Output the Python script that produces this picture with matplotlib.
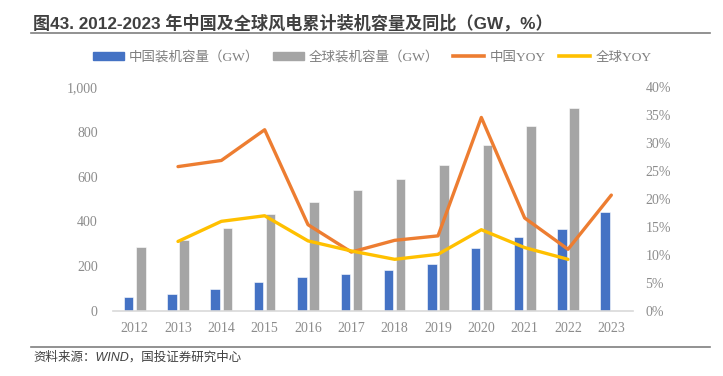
import numpy as np
import matplotlib
matplotlib.use("Agg")
import matplotlib.pyplot as plt
from matplotlib.lines import Line2D
from matplotlib.patches import Patch
from matplotlib.ticker import FuncFormatter, MultipleLocator

# data
years = ["2012", "2013", "2014", "2015", "2016", "2017",
         "2018", "2019", "2020", "2021", "2022", "2023"]
china_cap = [61, 75, 96, 129, 149, 164, 184, 210, 282, 328, 365, 441]
world_cap = [283, 318, 370, 433, 487, 540, 591, 651, 743, 825, 906, np.nan]
china_yoy = [np.nan, 25.8, 26.9, 32.4, 15.4, 10.5, 12.6, 13.4, 34.6, 16.6, 11.0, 20.7]
world_yoy = [np.nan, 12.4, 16.0, 17.0, 12.5, 10.7, 9.2, 10.1, 14.5, 11.3, 9.2, np.nan]

labels = ["中国装机容量（GW）", "全球装机容量（GW）", "中国YOY", "全球YOY"]
title = "图43. 2012-2023 年中国及全球风电累计装机容量及同比（GW，%）"
source = "资料来源：WIND，国投证券研究中心"

BLUE = "#4472C4"
GRAY = "#A5A5A5"
ORANGE = "#ED7D31"
YELLOW = "#FFC000"
TICK = "#8C8C8C"

serif = ["Liberation Serif", "Noto Sans CJK SC"]
sans = ["Liberation Sans", "Noto Sans CJK SC"]

W, H = 723, 376
fig = plt.figure(figsize=(W / 100, H / 100), dpi=100)
ax = fig.add_axes([113 / W, 1 - 310.7 / H, 520 / W, 223.4 / H])
ax2 = ax.twinx()

x = np.arange(len(years))
bw = 0.22
ax.bar(x - 0.14, china_cap, bw, color=BLUE, edgecolor="white", linewidth=0.4, zorder=2)
ax.bar(x + 0.14, world_cap, bw, color=GRAY, edgecolor="white", linewidth=0.4, zorder=2)

ax2.plot(x, china_yoy, color=ORANGE, lw=2.4, solid_capstyle="round", zorder=3)
ax2.plot(x, world_yoy, color=YELLOW, lw=2.4, solid_capstyle="round", zorder=3)

ax.set_xlim(-0.5, len(years) - 0.5)
ax.set_ylim(0, 1000)
ax2.set_ylim(0, 40)
ax.yaxis.set_major_locator(MultipleLocator(200))
ax2.yaxis.set_major_locator(MultipleLocator(5))
ax.yaxis.set_major_formatter(FuncFormatter(lambda v, p: f"{v:,.0f}"))
ax2.yaxis.set_major_formatter(FuncFormatter(lambda v, p: f"{v:.0f}%"))
ax.set_xticks(x)
ax.set_xticklabels(years)

for a in (ax, ax2):
    for s in a.spines.values():
        s.set_visible(False)
    a.tick_params(length=0, colors=TICK, labelsize=10)
    for t in a.get_xticklabels() + a.get_yticklabels():
        t.set_family(serif)
ax.spines["bottom"].set_visible(True)
ax.spines["bottom"].set_color("#D9D9D9")
ax.spines["bottom"].set_linewidth(1.2)
ax.tick_params(axis="y", pad=11)
ax.tick_params(axis="x", pad=8)
ax2.tick_params(axis="y", pad=9)

# title, rules and source
fig.text(33 / W, 1 - 22.7 / H, title, family=sans, weight="bold", fontsize=12.3,
         color="#404040", va="center", ha="left")
fig.add_artist(Line2D([31 / W, 710 / W], [1 - 33.3 / H] * 2, color="#7F7F7F", lw=1.2))
fig.add_artist(Line2D([31 / W, 710 / W], [1 - 347.3 / H] * 2, color="#7F7F7F", lw=1.2))
fig.text(33 / W, 1 - 357 / H, source, family=sans, style="italic", fontsize=9,
         color="#404040", va="center", ha="left")

handles = [Patch(color=BLUE), Patch(color=GRAY),
           Line2D([], [], color=ORANGE, lw=2.6), Line2D([], [], color=YELLOW, lw=2.6)]
leg = fig.legend(handles, labels, ncol=4, loc="center",
                 bbox_to_anchor=(372 / W, 1 - 57.3 / H), frameon=False,
                 prop={"family": serif, "size": 9.7}, handlelength=2.3,
                 handleheight=0.45, handletextpad=0.4, columnspacing=1.0)
for t in leg.get_texts():
    t.set_color("#7F7F7F")

fig.savefig("out.png", dpi=100)
